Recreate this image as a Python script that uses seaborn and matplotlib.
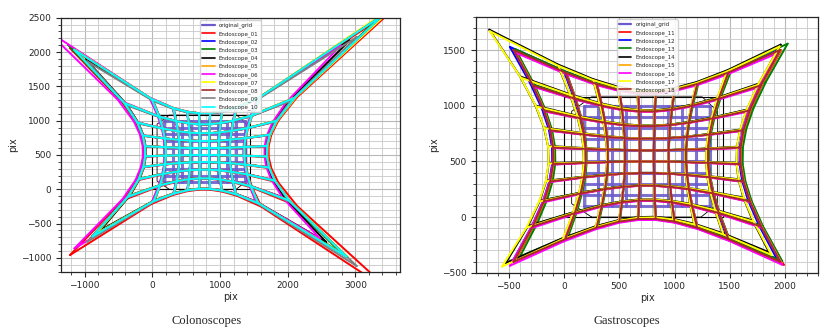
import numpy as np
import pandas as pd
import matplotlib
matplotlib.use("Agg")
import matplotlib.pyplot as plt
import seaborn as sns
from matplotlib.lines import Line2D
from matplotlib.ticker import MultipleLocator

# ---------------- data ----------------
IMG_W, IMG_H = 1440, 1080
MASK_X = [250, 1240, 1390, 1390, 1250, 250, 70, 70, 250]
MASK_Y = [0, 0, 120, 950, 1080, 1080, 950, 120, 0]

COLON_GRID_X = [170, 303, 437, 570, 703, 837, 970, 1103, 1237, 1370]
COLON_GRID_Y = [100, 200, 300, 400, 500, 600, 700, 800, 900, 1000]
GASTRO_GRID_X = [180, 307, 433, 560, 687, 813, 940, 1067, 1193, 1320]
GASTRO_GRID_Y = [100, 200, 300, 400, 500, 600, 700, 800, 900, 1000]

COLON_NAMES = ["Endoscope_01", "Endoscope_02", "Endoscope_03", "Endoscope_04", "Endoscope_05",
               "Endoscope_06", "Endoscope_07", "Endoscope_08", "Endoscope_09", "Endoscope_10"]
COLON_COLORS = ["red", "blue", "green", "black", "orange", "magenta", "yellow", "brown", "gray", "cyan"]
COLON_CX = [760, 760, 762, 762, 760, 775, 758, 760, 760, 760]
COLON_CY = [550, 540, 538, 540, 540, 540, 538, 540, 550, 540]
COLON_K1 = [-0.92, -0.88, -0.88, -0.85, -0.88, -0.88, -0.88, -0.88, -0.87, -0.88]
COLON_K6 = [7.0, 6.5, 6.5, 5.8, 6.5, 6.3, 6.5, 6.5, 6.4, 6.5]

GASTRO_NAMES = ["Endoscope_11", "Endoscope_12", "Endoscope_13", "Endoscope_14", "Endoscope_15",
                "Endoscope_16", "Endoscope_17", "Endoscope_18"]
GASTRO_COLORS = ["red", "blue", "green", "black", "orange", "magenta", "yellow", "brown"]
GASTRO_CX = [745, 755, 740, 770, 748, 752, 770, 750]
GASTRO_CY = [555, 545, 540, 528, 552, 560, 535, 550]
GASTRO_K1 = [-1.0, -1.0, -1.0, -1.0, -1.0, -1.0, -1.0, -1.0]
GASTRO_K6 = [0, 0, 0, 0.6, 0, 0, 0.8, 0]


def undistort(x, y, cx, cy, k1, k6):
    dx = (np.asarray(x, float) - cx) / 1000.0
    dy = (np.asarray(y, float) - cy) / 1000.0
    s = dx * dx + dy * dy
    d = 1 + k1 * s - k6 * s ** 6
    return cx + 1000 * dx / d, cy + 1000 * dy / d


def grid_frame(gx, gy, name, params=None):
    rows = []
    uid = 0
    for xv in gx:
        xs = np.full(len(gy), xv, float)
        ys = np.asarray(gy, float)
        if params is not None:
            xs, ys = undistort(xs, ys, *params)
        for a, b in zip(xs, ys):
            rows.append((a, b, name, f"{name}_{uid}"))
        uid += 1
    for yv in gy:
        xs = np.asarray(gx, float)
        ys = np.full(len(gx), yv, float)
        if params is not None:
            xs, ys = undistort(xs, ys, *params)
        for a, b in zip(xs, ys):
            rows.append((a, b, name, f"{name}_{uid}"))
        uid += 1
    return pd.DataFrame(rows, columns=["x", "y", "scope", "line"])


sns.set_style("ticks")
plt.rcParams["font.family"] = ["DejaVu Sans"]

fig = plt.figure(figsize=(8.31, 3.31), dpi=100)
ax1 = fig.add_axes([0.0734, 0.1792, 0.4079, 0.7673])
ax2 = fig.add_axes([0.5728, 0.1761, 0.4119, 0.7734])


def draw_panel(ax, gx, gy, names, colors, cxs, cys, k1s, k6s, xlim, ylim, xmaj, xmin_, ymaj, ymin_):
    ax.set_axisbelow(True)
    ax.grid(True, which="major", color="#b8b8b8", lw=0.8)
    ax.grid(True, which="minor", color="#c8c8c8", lw=0.6)
    ax.plot([0, IMG_W, IMG_W, 0, 0], [0, 0, IMG_H, IMG_H, 0], color="black", lw=0.8, zorder=2)
    ax.plot(MASK_X, MASK_Y, color="black", lw=0.6, zorder=2)
    orig = grid_frame(gx, gy, "original_grid")
    sns.lineplot(data=orig, x="x", y="y", units="line", estimator=None, sort=False,
                 color="slateblue", lw=2.2, alpha=0.85, ax=ax, legend=False)
    frames = []
    for n, cx, cy, a, b in zip(names, cxs, cys, k1s, k6s):
        frames.append(grid_frame(gx, gy, n, (cx, cy, a, b)))
    df = pd.concat(frames, ignore_index=True)
    sns.lineplot(data=df, x="x", y="y", hue="scope", hue_order=names,
                 palette=dict(zip(names, colors)), units="line", estimator=None,
                 sort=False, lw=1.4, ax=ax, legend=False)
    ax.set_xlim(*xlim)
    ax.set_ylim(*ylim)
    ax.xaxis.set_major_locator(MultipleLocator(xmaj))
    ax.xaxis.set_minor_locator(MultipleLocator(xmin_))
    ax.yaxis.set_major_locator(MultipleLocator(ymaj))
    ax.yaxis.set_minor_locator(MultipleLocator(ymin_))
    ax.tick_params(which="major", labelsize=6.5, length=3.5, width=0.8)
    ax.tick_params(which="minor", length=2, width=0.6)
    ax.set_xlabel("pix", fontsize=7, labelpad=1)
    ax.set_ylabel("pix", fontsize=7, labelpad=2)
    for sp in ax.spines.values():
        sp.set_linewidth(0.9)
    handles = [Line2D([], [], color="slateblue", lw=1.6)] + [Line2D([], [], color=c, lw=1.2) for c in colors]
    labels = ["original_grid"] + names
    ax.legend(handles, labels, loc="upper center", fontsize=4, frameon=True,
              borderpad=0.4, labelspacing=0.45, handlelength=2.2, framealpha=0.85)


draw_panel(ax1, COLON_GRID_X, COLON_GRID_Y, COLON_NAMES, COLON_COLORS, COLON_CX, COLON_CY,
           COLON_K1, COLON_K6, (-1350, 3660), (-1200, 2500), 1000, 200, 500, 100)
draw_panel(ax2, GASTRO_GRID_X, GASTRO_GRID_Y, GASTRO_NAMES, GASTRO_COLORS, GASTRO_CX, GASTRO_CY,
           GASTRO_K1, GASTRO_K6, (-795, 2300), (-500, 1800), 500, 100, 500, 100)

fig.text(207 / 831, 1 - 321 / 331, "Colonoscopes", family="Liberation Serif", fontsize=9,
         ha="center", va="center")
fig.text(627 / 831, 1 - 321 / 331, "Gastroscopes", family="Liberation Serif", fontsize=9,
         ha="center", va="center")

fig.savefig("out.png", dpi=100)
